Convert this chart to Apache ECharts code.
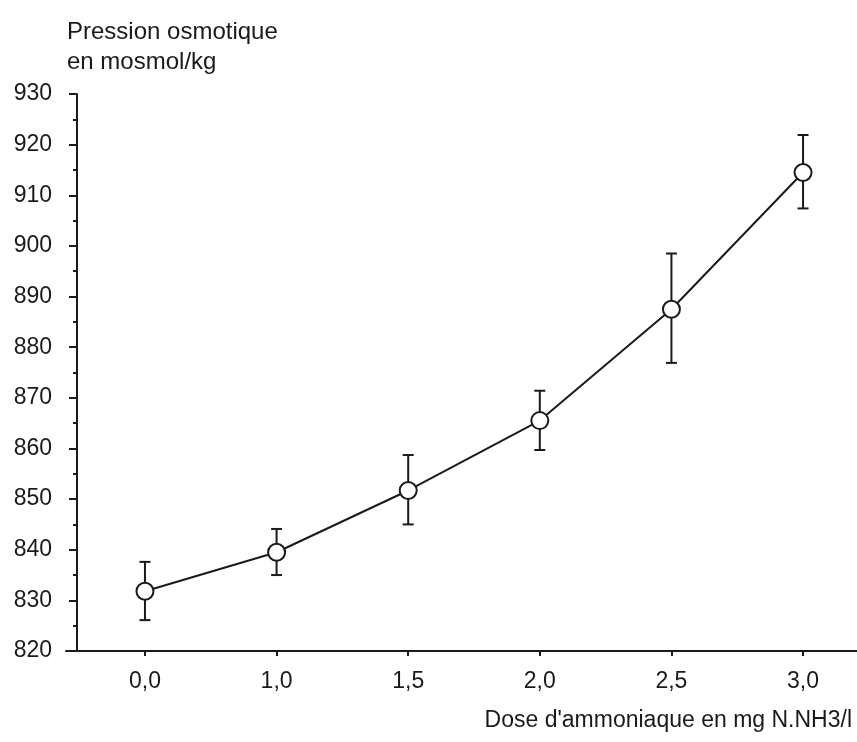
<!DOCTYPE html>
<html>
<head>
<meta charset="utf-8">
<script src="https://cdn.jsdelivr.net/npm/echarts@6/dist/echarts.min.js"></script>
<style>
html,body{margin:0;padding:0;background:#fff;}
#chart{width:857px;height:742px;}
</style>
</head>
<body>
<div id="chart"></div>
<script>
// Data
const categories = ['0,0', '1,0', '1,5', '2,0', '2,5', '3,0'];
const meanValues = [831.8, 839.5, 851.7, 865.5, 887.5, 914.5];
const lowValues  = [826.1, 835.0, 845.0, 859.7, 876.9, 907.4];
const highValues = [837.6, 844.1, 858.7, 871.4, 898.5, 921.9];
const yTicks = [820, 830, 840, 850, 860, 870, 880, 890, 900, 910, 920, 930];

const FONT = '"Liberation Sans", Arial, Helvetica, sans-serif';
const INK = '#1a1a1a';

const chart = echarts.init(document.getElementById('chart'), null, {renderer: 'canvas'});

const lineData = meanValues.map((v, i) => [i, v]);
const errData = meanValues.map((v, i) => [i, lowValues[i], highValues[i]]);
const idx = categories.map((c, i) => i);

chart.setOption({
  backgroundColor: '#ffffff',
  animation: false,
  title: {
    text: 'Pression osmotique\nen mosmol/kg',
    left: 62, top: 12,
    textStyle: {fontFamily: FONT, fontSize: 24, fontWeight: 'normal', color: INK, lineHeight: 30}
  },
  graphic: [{
    type: 'text',
    right: 5, top: 709,
    style: {text: "Dose d'ammoniaque en mg N.NH3/l", font: '23px ' + FONT, fill: INK}
  }],
  grid: {left: 66, right: 0, top: 94, bottom: 91, containLabel: false},
  xAxis: {
    type: 'value',
    min: -0.6, max: 5.41,
    splitLine: {show: false},
    axisLine: {show: true, onZero: false, lineStyle: {color: INK, width: 2}},
    axisTick: {show: true, customValues: idx, length: 5, inside: false, lineStyle: {color: INK, width: 2}},
    axisLabel: {
      show: true, customValues: idx, margin: 19,
      fontFamily: FONT, fontSize: 23, color: INK,
      formatter: v => categories[Math.round(v)]
    }
  },
  yAxis: {
    type: 'value',
    min: 820, max: 930, interval: 10,
    offset: -11,
    splitLine: {show: false},
    axisLine: {show: true, onZero: false, lineStyle: {color: INK, width: 2}},
    axisTick: {show: true, length: 8, lineStyle: {color: INK, width: 2}},
    minorTick: {show: true, splitNumber: 2, length: 4, lineStyle: {color: INK, width: 2}},
    axisLabel: {margin: 25, fontFamily: FONT, fontSize: 23, color: INK}
  },
  series: [
    {
      type: 'custom',
      z: 2,
      data: errData,
      renderItem: function (params, api) {
        const x = api.value(0);
        const lo = api.coord([x, api.value(1)]);
        const hi = api.coord([x, api.value(2)]);
        const hw = 5.5;
        const st = {stroke: INK, lineWidth: 2};
        return {
          type: 'group',
          children: [
            {type: 'line', shape: {x1: lo[0], y1: lo[1], x2: hi[0], y2: hi[1]}, style: st},
            {type: 'line', shape: {x1: lo[0] - hw, y1: lo[1], x2: lo[0] + hw, y2: lo[1]}, style: st},
            {type: 'line', shape: {x1: hi[0] - hw, y1: hi[1], x2: hi[0] + hw, y2: hi[1]}, style: st}
          ]
        };
      }
    },
    {
      type: 'line',
      z: 3,
      data: lineData,
      symbol: 'circle',
      symbolSize: 17,
      lineStyle: {color: INK, width: 2},
      itemStyle: {color: '#ffffff', borderColor: INK, borderWidth: 2},
      emphasis: {disabled: true}
    }
  ]
});
</script>
</body>
</html>
